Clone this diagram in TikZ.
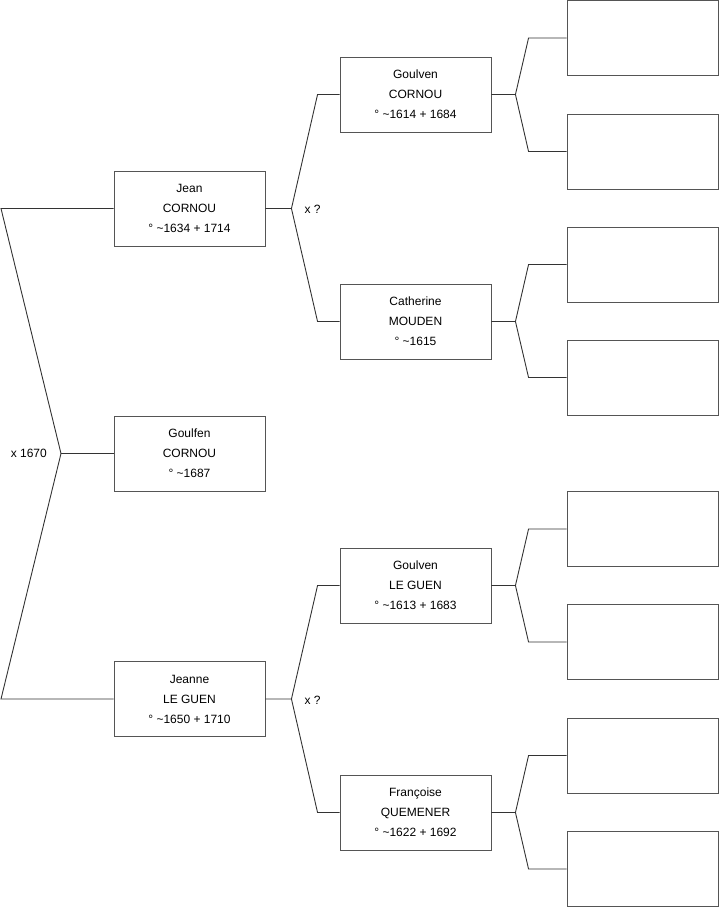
\documentclass[tikz,border=0pt]{standalone}
\usepackage{fontspec}
\setmainfont{Liberation Sans}
\usetikzlibrary{positioning}
\definecolor{boxgray}{HTML}{555555}
\definecolor{linegray}{HTML}{333333}

\begin{document}
\begin{tikzpicture}[x=1pt,y=-1pt,
  person/.style={draw=boxgray, fill=white, line width=0.9pt, minimum width=151pt,
    minimum height=75pt, inner sep=0pt, align=center, font=\fontsize{12}{20}\selectfont},
  link/.style={draw=linegray, line width=0.9pt},
  mariage/.style={inner sep=0pt, font=\fontsize{12}{14}\selectfont}]
  \useasboundingbox (0,0) rectangle (719,908);

  % generation 1
  \node[person] (jean) at (189.5,208.5) {Jean\\CORNOU\\° \textasciitilde1634 + 1714};
  \node[person] (goulfen) at (189.5,453.5) {Goulfen\\CORNOU\\° \textasciitilde1687};
  \node[person] (jeanne) at (189.5,699) {Jeanne\\LE GUEN\\° \textasciitilde1650 + 1710};

  % generation 2
  \node[person] (gc) at (415.5,94.5) {Goulven\\CORNOU\\° \textasciitilde1614 + 1684};
  \node[person] (cm) at (415.5,321.5) {Catherine\\MOUDEN\\° \textasciitilde1615};
  \node[person] (gl) at (415.5,585.5) {Goulven\\LE GUEN\\° \textasciitilde1613 + 1683};
  \node[person] (fq) at (415.5,812.5) {Françoise\\QUEMENER\\° \textasciitilde1622 + 1692};

  % generation 3 (vides)
  \foreach \n/\y in {e1/38, e2/151.5, e3/264.5, e4/377.5, e5/529, e6/642, e7/755.5, e8/869}
    \node[person] (\n) at (642.5,\y) {};

  % mariage des parents
  \coordinate (mar) at (61,453.5);
  \draw[link] (jean.west) -- (1,208.5) -- (mar) -- (1,699) -- (jeanne.west);
  \draw[link] (mar) -- (goulfen.west);
  \node[mariage, anchor=east] (m1670) at ([xshift=-14pt]mar) {x 1670};

  % grands-parents
  \foreach \c/\p/\m/\lab in {jean/gc/cm/mj, jeanne/gl/fq/mje} {
    \coordinate (\lab) at ([xshift=26pt]\c.east);
    \draw[link] (\c.east) -- (\lab) -- ([xshift=-22pt]\p.west) -- (\p.west);
    \draw[link] (\lab) -- ([xshift=-22pt]\m.west) -- (\m.west);
    \node[mariage, anchor=west] at ([xshift=13pt,yshift=-1pt]\lab) {x ?};
  }

  % arriere-grands-parents
  \foreach \c/\p/\m in {gc/e1/e2, cm/e3/e4, gl/e5/e6, fq/e7/e8} {
    \draw[link] (\c.east) -- ([xshift=24pt]\c.east) -- ([xshift=-38pt]\p.west) -- (\p.west);
    \draw[link] ([xshift=24pt]\c.east) -- ([xshift=-38pt]\m.west) -- (\m.west);
  }
\end{tikzpicture}
\end{document}
